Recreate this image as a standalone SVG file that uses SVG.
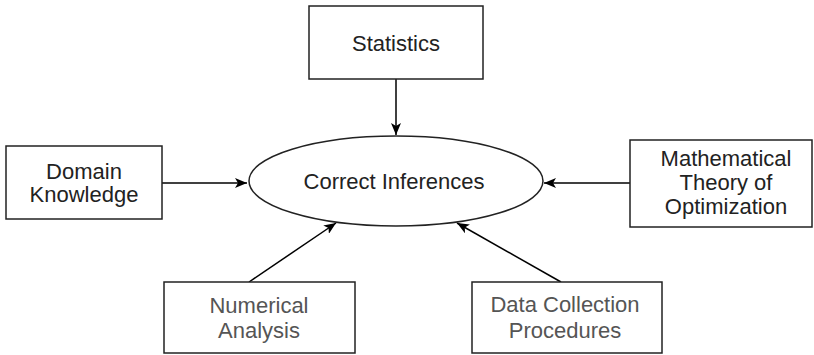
<svg xmlns="http://www.w3.org/2000/svg" width="814" height="355" viewBox="0 0 814 355">
<defs>
<marker id="ah" viewBox="0 0 12 10" refX="12" refY="5" markerWidth="12" markerHeight="10" markerUnits="userSpaceOnUse" orient="auto">
<path d="M0,0 L12,5 L0,10 L3,5 Z" fill="#000"/>
</marker>
</defs>
<style>
.box{fill:#fff;stroke:#222;stroke-width:1.5}
.t{font-family:"Liberation Sans",Arial,sans-serif;font-size:22px;text-anchor:middle;fill:#222}
.g{fill:#555}
.c{stroke:#000;stroke-width:1.5;fill:none;marker-end:url(#ah)}
</style>
<g id="connectors">
<line class="c" x1="396" y1="79" x2="396" y2="135"/>
<line class="c" x1="162" y1="183" x2="247" y2="183"/>
<line class="c" x1="630" y1="183" x2="544" y2="183"/>
<line class="c" x1="249" y1="282" x2="336" y2="223"/>
<line class="c" x1="561" y1="282" x2="457" y2="223"/>
</g>
<g id="statistics">
<rect class="box" x="309" y="6" width="174" height="73"/>
<text class="t" x="396" y="51">Statistics</text>
</g>
<g id="correct">
<ellipse class="box" cx="396" cy="181" rx="147" ry="45"/>
<text class="t" x="394" y="189">Correct Inferences</text>
</g>
<g id="domain">
<rect class="box" x="6" y="146" width="156" height="73"/>
<text class="t" x="84" y="179">Domain</text>
<text class="t" x="84" y="202">Knowledge</text>
</g>
<g id="math">
<rect class="box" x="630" y="140" width="182" height="87"/>
<text class="t" x="726" y="166">Mathematical</text>
<text class="t" x="726" y="190">Theory of</text>
<text class="t" x="726" y="214">Optimization</text>
</g>
<g id="numerical">
<rect class="box" x="164" y="282" width="191" height="71"/>
<text class="t g" x="259" y="313">Numerical</text>
<text class="t g" x="259" y="338">Analysis</text>
</g>
<g id="data">
<rect class="box" x="472" y="282" width="190" height="71"/>
<text class="t g" x="565" y="312">Data Collection</text>
<text class="t g" x="565" y="338">Procedures</text>
</g>
</svg>
